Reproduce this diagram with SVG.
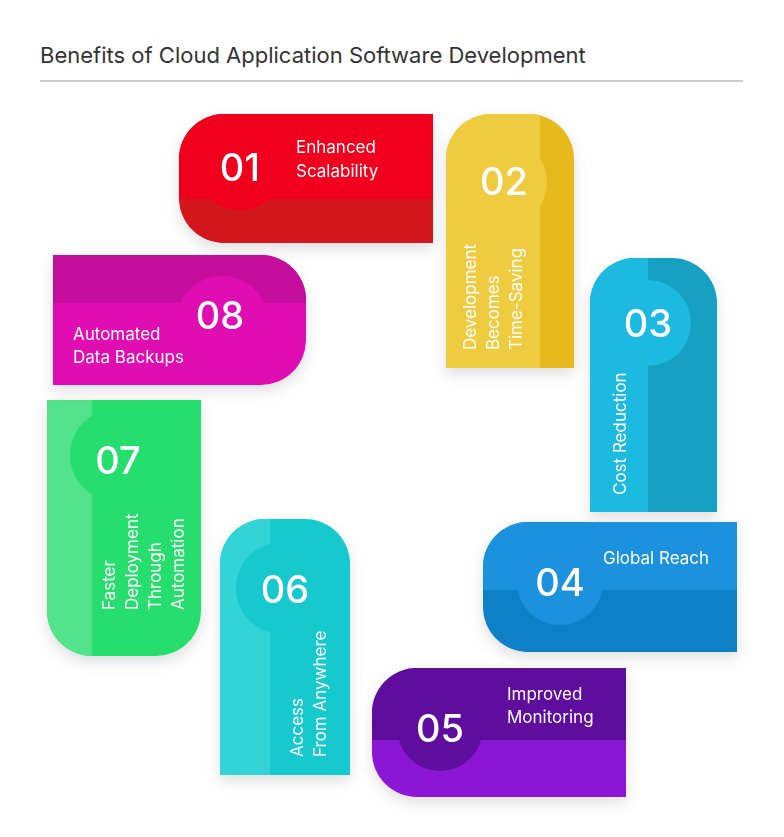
<svg xmlns="http://www.w3.org/2000/svg" width="784" height="837" viewBox="0 0 784 837">
<style>
.t{font-family:Inter,"Noto Sans",sans-serif;fill:#fff}
.n{font-size:38px;font-weight:500;text-anchor:middle}
.l{font-size:17px}
</style>
<defs>
<filter id="sh" x="-20%" y="-20%" width="140%" height="150%"><feDropShadow dx="0" dy="6" stdDeviation="7" flood-color="#000" flood-opacity="0.12"/></filter>
<clipPath id="c1"><path d="M433,114H224A45,45 0 0 0 179,159V198A45,45 0 0 0 224,243H433Z"/></clipPath>
<clipPath id="c2"><path d="M446,368V159A45,45 0 0 1 491,114H529A45,45 0 0 1 574,159V368Z"/></clipPath>
<clipPath id="c3"><path d="M590,512V303A45,45 0 0 1 635,258H672A45,45 0 0 1 717,303V512Z"/></clipPath>
<clipPath id="c4"><path d="M737,522H528A45,45 0 0 0 483,567V607A45,45 0 0 0 528,652H737Z"/></clipPath>
<clipPath id="c5"><path d="M626,668H417A45,45 0 0 0 372,713V752A45,45 0 0 0 417,797H626Z"/></clipPath>
<clipPath id="c6"><path d="M220,775V564A45,45 0 0 1 265,519H305A45,45 0 0 1 350,564V775Z"/></clipPath>
<clipPath id="c7"><path d="M47,400V611A45,45 0 0 0 92,656H156A45,45 0 0 0 201,611V400Z"/></clipPath>
<clipPath id="c8"><path d="M53,255H261A45,45 0 0 1 306,300V340A45,45 0 0 1 261,385H53Z"/></clipPath>
</defs>
<rect width="784" height="837" fill="#fff"/>
<text x="40" y="63" font-family="Inter,'Noto Sans',sans-serif" font-size="22" fill="#333">Benefits of Cloud Application Software Development</text>
<line x1="40" y1="81" x2="743" y2="81" stroke="#999" stroke-width="1"/>

<g id="node1" filter="url(#sh)"><g clip-path="url(#c1)">
<rect x="179" y="114" width="254" height="129" fill="#D2141E"/><rect x="179" y="114" width="254" height="85" fill="#F0001C"/><circle cx="240" cy="167" r="43" fill="#F0001C"/></g>
<text class="t n" x="240" y="181">01</text><text class="t l" x="296" y="153">Enhanced</text><text class="t l" x="296" y="177">Scalability</text></g>

<g id="node2" filter="url(#sh)"><g clip-path="url(#c2)">
<rect x="446" y="114" width="128" height="254" fill="#E6BA1A"/><rect x="446" y="114" width="94" height="254" fill="#EFCB40"/><circle cx="504" cy="182" r="43" fill="#EFCB40"/></g>
<text class="t n" x="504" y="195">02</text>
<g class="t l" transform="translate(476,350) rotate(-90)"><text x="0" y="0">Development</text><text x="0" y="23">Becomes</text><text x="0" y="46">Time-Saving</text></g></g>

<g id="node3" filter="url(#sh)"><g clip-path="url(#c3)">
<rect x="590" y="258" width="127" height="254" fill="#17A0C2"/><rect x="590" y="258" width="58" height="254" fill="#1CB9E0"/><circle cx="648" cy="323" r="43" fill="#1CB9E0"/></g>
<text class="t n" x="648" y="337">03</text>
<text class="t l" transform="translate(626,495) rotate(-90)">Cost Reduction</text></g>

<g id="node4" filter="url(#sh)"><g clip-path="url(#c4)">
<rect x="483" y="522" width="254" height="130" fill="#1080C8"/><rect x="483" y="522" width="254" height="68" fill="#1E92DE"/><circle cx="560" cy="582" r="43" fill="#1E92DE"/></g>
<text class="t n" x="560" y="596">04</text><text class="t l" x="603" y="564">Global Reach</text></g>

<g id="node5" filter="url(#sh)"><g clip-path="url(#c5)">
<rect x="372" y="668" width="254" height="129" fill="#8B16D6"/><rect x="372" y="668" width="254" height="72" fill="#5E0A9C"/><circle cx="440" cy="728" r="43" fill="#5E0A9C"/></g>
<text class="t n" x="440" y="742">05</text><text class="t l" x="507" y="700">Improved</text><text class="t l" x="507" y="723">Monitoring</text></g>

<g id="node6" filter="url(#sh)"><g clip-path="url(#c6)">
<rect x="220" y="519" width="130" height="256" fill="#15C9CC"/><rect x="220" y="519" width="50" height="256" fill="#33D4D8"/><circle cx="282" cy="588" r="46" fill="#15C9CC"/></g>
<text class="t n" x="285" y="603">06</text>
<g class="t l" transform="translate(303,757) rotate(-90)"><text x="0" y="0">Access</text><text x="0" y="23">From Anywhere</text></g></g>

<g id="node7" filter="url(#sh)"><g clip-path="url(#c7)">
<rect x="47" y="400" width="154" height="256" fill="#25DE6D"/><rect x="47" y="400" width="45" height="256" fill="#52E38A"/><circle cx="116" cy="455" r="46" fill="#25DE6D"/></g>
<text class="t n" x="118" y="474">07</text>
<g class="t l" transform="translate(115,610) rotate(-90)"><text x="0" y="0">Faster</text><text x="0" y="23">Deployment</text><text x="0" y="46">Through</text><text x="0" y="69">Automation</text></g></g>

<g id="node8" filter="url(#sh)"><g clip-path="url(#c8)">
<rect x="53" y="255" width="253" height="130" fill="#E00EB3"/><rect x="53" y="255" width="253" height="48" fill="#C40E9A"/><circle cx="222" cy="322" r="46" fill="#E00EB3"/></g>
<text class="t n" x="220" y="329">08</text><text class="t l" x="73" y="340">Automated</text><text class="t l" x="73" y="363">Data Backups</text></g>

<g id="connectors"/>
</svg>
